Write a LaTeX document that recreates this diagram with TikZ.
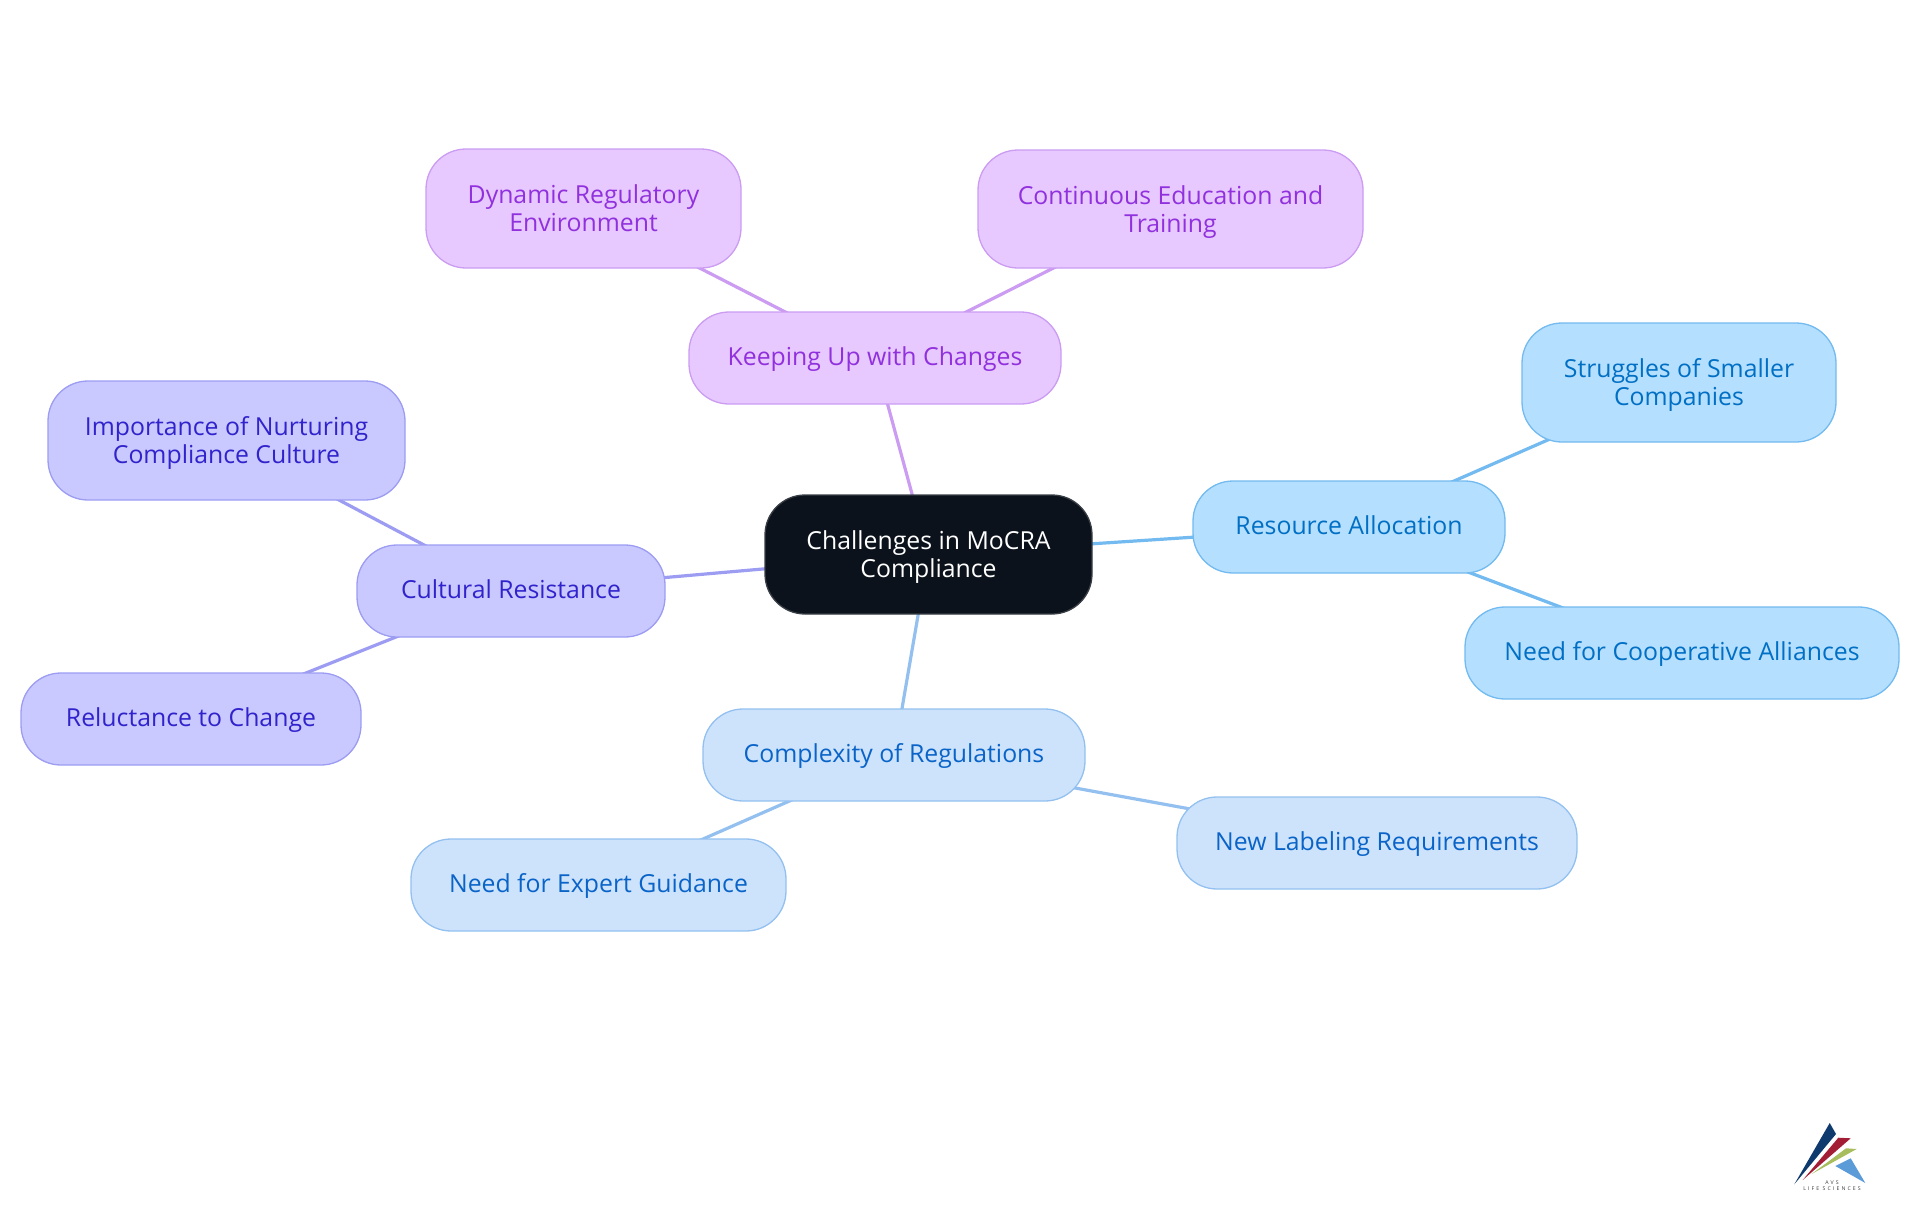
\documentclass[tikz,border=0pt]{standalone}
\usepackage{fontspec}
\setmainfont{Open Sans}
\newfontfamily\logofont[LetterSpace=40]{Open Sans}
\usetikzlibrary{backgrounds}
\definecolor{rootfill}{HTML}{0C121B}\definecolor{rootline}{HTML}{3A3F46}
\definecolor{pfill}{HTML}{E7C9FF}\definecolor{pline}{HTML}{CB9CF2}\definecolor{ptext}{HTML}{9130DD}
\definecolor{bfill}{HTML}{B5DFFF}\definecolor{bline}{HTML}{72BAEF}\definecolor{btext}{HTML}{006FC4}
\definecolor{cfill}{HTML}{CDE3FC}\definecolor{cline}{HTML}{94C0F0}\definecolor{ctext}{HTML}{0A64C8}
\definecolor{ifill}{HTML}{C9C9FF}\definecolor{iline}{HTML}{9C9CF2}\definecolor{itext}{HTML}{3023CC}
\definecolor{navy}{HTML}{0F3A6E}\definecolor{wine}{HTML}{A31D35}\definecolor{leaf}{HTML}{A8BE5E}\definecolor{sky}{HTML}{5B9BD8}
\definecolor{logotext}{HTML}{3A3A3A}
\newcommand{\dn}{\rule[-9pt]{0pt}{9pt}}
\newcommand{\up}{\rule{0pt}{27pt}}
\tikzset{
 x=1pt,y=-1pt,
 mm/.style={rounded corners=40pt,line width=1.3pt,inner sep=0,outer sep=0,align=center,font=\fontsize{24.8}{28}\selectfont,
   execute at begin node={\rule{0pt}{24pt}}},
 root/.style={mm,draw=rootline,fill=rootfill,text=white},
 pn/.style={mm,draw=pline,fill=pfill,text=ptext},
 bn/.style={mm,draw=bline,fill=bfill,text=btext},
 cn/.style={mm,draw=cline,fill=cfill,text=ctext},
 inode/.style={mm,draw=iline,fill=ifill,text=itext},
 link/.style={line width=3.2pt},
 logotxt/.style={font=\logofont\fontsize{5.2}{6}\selectfont,text=logotext,inner sep=0},
}
\newcommand{\mmnode}[7]{\node[#1,minimum width={(#5)-(#3)},minimum height={(#6)-(#4)}] (#2) at ({((#3)+(#5))/2},{((#4)+(#6))/2}) {#7\dn};}
\begin{document}
\begin{tikzpicture}
\useasboundingbox (0,0) rectangle (1920,1215);
\mmnode{root}{r}{765}{495}{1092}{614}{\up Challenges in MoCRA\\Compliance}
\mmnode{pn}{keep}{689}{312}{1061}{404}{Keeping Up with Changes}
\mmnode{pn}{dyn}{426}{149}{741}{268}{\up Dynamic Regulatory\\Environment}
\mmnode{pn}{cont}{978}{150}{1363}{268}{\up Continuous Education and\\Training}
\mmnode{bn}{res}{1193}{481}{1505}{573}{Resource Allocation}
\mmnode{bn}{str}{1522}{323}{1836}{442}{\up Struggles of Smaller\\Companies}
\mmnode{bn}{coop}{1465}{607}{1899}{699}{Need for Cooperative Alliances}
\mmnode{cn}{cpx}{703}{709}{1085}{801}{Complexity of Regulations}
\mmnode{cn}{lab}{1177}{797}{1577}{889}{New Labeling Requirements}
\mmnode{cn}{exp}{411}{839}{786}{931}{Need for Expert Guidance}
\mmnode{inode}{cul}{357}{545}{665}{637}{Cultural Resistance}
\mmnode{inode}{imp}{48}{381}{405}{500}{\up Importance of Nurturing\\Compliance Culture}
\mmnode{inode}{rel}{21}{673}{361}{765}{Reluctance to Change}
\begin{scope}[on background layer]
\draw[link,pline] (r.center)--(keep.center);
\draw[link,pline] (keep.center)--(dyn.center);
\draw[link,pline] (keep.center)--(cont.center);
\draw[link,bline] (r.center)--(res.center);
\draw[link,bline] (res.center)--(str.center);
\draw[link,bline] (res.center)--(coop.center);
\draw[link,cline] (r.center)--(cpx.center);
\draw[link,cline] (cpx.center)--(lab.center);
\draw[link,cline] (cpx.center)--(exp.center);
\draw[link,iline] (r.center)--(cul.center);
\draw[link,iline] (cul.center)--(imp.center);
\draw[link,iline] (cul.center)--(rel.center);
\end{scope}
% logo
\fill[navy] (1794.3,1184.3)--(1829.7,1123)--(1836,1134)--cycle;
\fill[wine] (1802.7,1180)--(1838.3,1137.7)--(1850.7,1138.3)--cycle;
\fill[leaf] (1811.7,1174)--(1846,1148.3)--(1856.7,1149)--cycle;
\fill[sky] (1835.3,1166)--(1850.7,1158.3)--(1865.3,1183)--cycle;
\node[logotxt] (avs) at (1832,1182.5) {AVS};
\node[logotxt] (life) at (1832,1189) {LIFE SCIENCES};
\end{tikzpicture}
\end{document}
